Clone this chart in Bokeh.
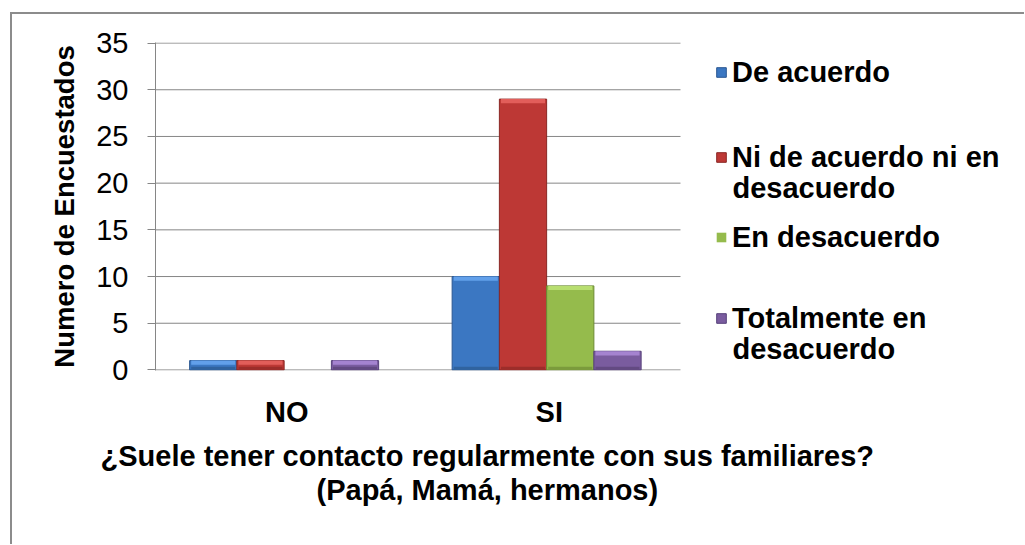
from bokeh.plotting import figure
from bokeh.models import (Range1d, Legend, LegendItem, Title, Label,
                          ColumnDataSource, FixedTicker)
from bokeh.transform import dodge
from bokeh.embed import file_html
from bokeh.resources import INLINE

# ---- data ----
categories = ["NO", "SI"]
series_names = ["De acuerdo", "Ni de acuerdo ni en desacuerdo",
                "En desacuerdo", "Totalmente en desacuerdo"]
de_acuerdo = [1, 10]
ni_de_acuerdo = [1, 29]
en_desacuerdo = [0, 9]
totalmente_en_desacuerdo = [1, 2]
y_ticks = [0, 5, 10, 15, 20, 25, 30, 35]
y_title = "Numero de Encuestados"
x_title_line1 = "¿Suele tener contacto regularmente con  sus familiares?"
x_title_line2 = "(Papá, Mamá, hermanos)"
legend_first_lines = ["De acuerdo", "Ni de acuerdo ni en", "En desacuerdo", "Totalmente en"]
legend_second_lines = [None, "desacuerdo", None, "desacuerdo"]

# ---- layout / styles ----
FONT = "Liberation Sans"
GRID = "#868686"
main_colors = ["#3b77c2", "#bd3835", "#95bb4c", "#7a5c9f"]
light_colors = ["#62a0ea", "#e25e5a", "#b8de70", "#a583d0"]
dark_colors = ["#30639f", "#9c2d2a", "#7b9b3c", "#634a82"]
edge_colors = ["#2b5791", "#8a2724", "#6c8b33", "#56407a"]
offsets = [-0.28, -0.10, 0.08, 0.26]
BAR_W = 0.18
W, H = 1024, 544
FRAME_L, FRAME_R, FRAME_T, FRAME_B = 155, 1014, 42, 370
CAT_PX = 262.5                      # pixel width of one category slot
n_cat = len(categories)
cat_pos = [i + 0.5 for i in range(n_cat)]
x_end = (FRAME_R - FRAME_L) / CAT_PX   # the frame also hosts the legend on the right

p = figure(width=W, height=H,
           x_range=Range1d(0, x_end),
           y_range=Range1d(-0.06, 35.06),
           output_backend="svg", toolbar_location=None,
           min_border_left=FRAME_L, min_border_right=W - FRAME_R,
           min_border_top=FRAME_T, min_border_bottom=H - FRAME_B)
p.outline_line_color = None
p.background_fill_color = "white"
p.border_fill_color = None
p.styles = {
    "background-color": "white",
    "background-image": "linear-gradient(#8c8c8c,#8c8c8c), linear-gradient(#8c8c8c,#8c8c8c)",
    "background-position": "10px 12px, 10px 12px",
    "background-size": "2px 2000px, 2000px 2px",
    "background-repeat": "no-repeat",
}
p.xgrid.grid_line_color = None
p.ygrid.grid_line_color = None

# horizontal gridlines, only across the category area
p.segment(x0=[0] * len(y_ticks), x1=[n_cat] * len(y_ticks), y0=y_ticks, y1=y_ticks,
          line_color=GRID, line_width=1)

series_values = [de_acuerdo, ni_de_acuerdo, en_desacuerdo, totalmente_en_desacuerdo]
renderers = []
for i, vals in enumerate(series_values):
    src = ColumnDataSource(dict(x=cat_pos, top=vals,
                                hl_bottom=[max(v - 0.45, 0) for v in vals],
                                dk_top=[min(v, 0.35) for v in vals],
                                edge_alpha=[1.0 if v > 0 else 0.0 for v in vals]))
    r = p.vbar(x=dodge("x", offsets[i]), top="top", bottom=0,
               width=BAR_W, source=src, fill_color=main_colors[i],
               line_color=edge_colors[i], line_alpha="edge_alpha", line_width=1)
    p.vbar(x=dodge("x", offsets[i]), top="dk_top", bottom=0,
           width=BAR_W - 0.012, source=src, fill_color=dark_colors[i],
           line_color=None)
    p.vbar(x=dodge("x", offsets[i]), top="top", bottom="hl_bottom",
           width=BAR_W - 0.012, source=src, fill_color=light_colors[i],
           line_color=None)
    renderers.append(r)

# ---- axes ----
p.yaxis.ticker = FixedTicker(ticks=y_ticks)
p.yaxis.axis_label = y_title
p.yaxis.axis_label_text_font = FONT
p.yaxis.axis_label_text_font_style = "bold"
p.yaxis.axis_label_text_font_size = "27.5px"
p.yaxis.axis_label_text_color = "black"
p.yaxis.axis_label_standoff = 13
p.yaxis.major_label_text_font = FONT
p.yaxis.major_label_text_font_size = "29px"
p.yaxis.major_label_text_color = "black"
p.yaxis.major_label_standoff = 19
p.yaxis.major_tick_out = 8
p.yaxis.major_tick_in = 0
p.yaxis.minor_tick_out = 0
p.yaxis.minor_tick_in = 0
p.yaxis.major_tick_line_color = GRID
p.yaxis.axis_line_color = GRID

p.xaxis.ticker = FixedTicker(ticks=cat_pos)
p.xaxis.major_label_overrides = {pos: cat for pos, cat in zip(cat_pos, categories)}
p.xaxis.major_label_text_font = FONT
p.xaxis.major_label_text_font_style = "bold"
p.xaxis.major_label_text_font_size = "29px"
p.xaxis.major_label_text_color = "black"
p.xaxis.major_label_standoff = 25
p.xaxis.major_tick_out = 0
p.xaxis.major_tick_in = 0
p.xaxis.minor_tick_out = 0
p.xaxis.minor_tick_in = 0
p.xaxis.axis_line_color = None

# ---- x title (two lines below the axis) ----
p.add_layout(Title(text=" ", text_font_size="1px", standoff=6), "below")
p.add_layout(Title(text=x_title_line1, align="left", offset=-55, vertical_align="top",
                   standoff=0, text_font=FONT, text_font_style="bold",
                   text_font_size="29px", text_color="black"), "below")
p.add_layout(Title(text=x_title_line2, align="left", offset=161, vertical_align="top",
                   standoff=0, text_font=FONT, text_font_style="bold",
                   text_font_size="29px", text_color="black"), "below")

# ---- legend (one entry per series, placed inside the wide frame) ----
LEG_X = 715 - FRAME_L
first_line_y = [72, 157, 237, 318]      # page y of each entry's first line
ITEM_H = 34
for i in range(4):
    leg = Legend(items=[LegendItem(label=legend_first_lines[i], renderers=[renderers[i]])],
                 location=(LEG_X, FRAME_B - first_line_y[i] - ITEM_H / 2),
                 orientation="vertical",
                 label_text_font=FONT, label_text_font_style="bold",
                 label_text_font_size="29px", label_text_color="black",
                 glyph_width=12, glyph_height=12, label_standoff=5,
                 label_height=ITEM_H, spacing=0, padding=0, margin=0,
                 border_line_alpha=0, background_fill_alpha=0)
    p.add_layout(leg)
    if legend_second_lines[i]:
        p.add_layout(Label(x=LEG_X + 17, y=FRAME_B - (first_line_y[i] + 30),
                           x_units="screen", y_units="screen",
                           text=legend_second_lines[i], text_font=FONT,
                           text_font_style="bold", text_font_size="29px",
                           text_color="black", text_baseline="middle",
                           text_align="left"))

open("out.html", "w").write(file_html(p, INLINE))
